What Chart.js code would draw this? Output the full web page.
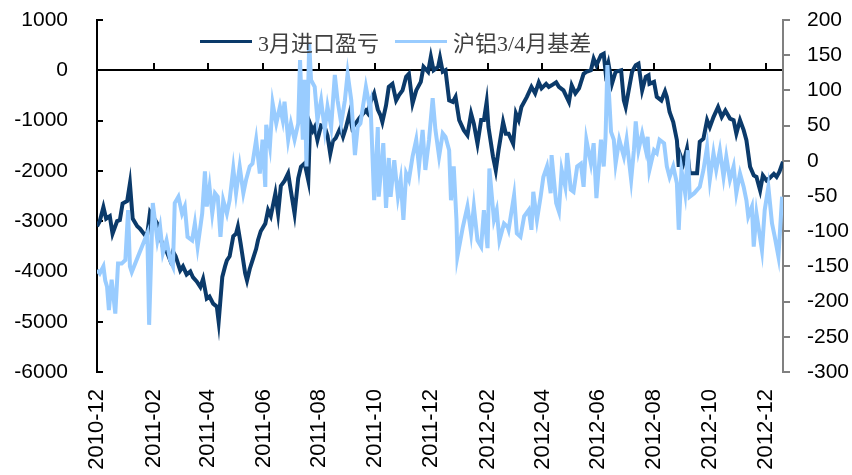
<!DOCTYPE html>
<html>
<head>
<meta charset="utf-8">
<script src="https://cdn.jsdelivr.net/npm/chart.js@4.4.0/dist/chart.umd.min.js"></script>
<style>
html, body { margin: 0; padding: 0; background: #fff; }
#wrap { position: relative; width: 852px; height: 475px; }
#legend { position: absolute; left: 200px; top: 25px; display: flex; align-items: center;
  font-family: "Liberation Serif", "Noto Sans CJK SC", serif; font-size: 22px; color: #404040; }
.item { display: flex; align-items: center; margin-right: 16px; }
.swatch { width: 52px; height: 3px; margin-right: 6px; }
</style>
</head>
<body>
<div id="wrap">
  <canvas id="chart" width="852" height="475"></canvas>
  <div id="legend"></div>
</div>
<script>
// series names + colours
const seriesNames = ['3月进口盈亏', '沪铝3/4月基差'];
const seriesColors = ['#0b3a6a', '#99ccff'];

// x axis: days since 2010-12-01, one label every two months
const tickDays = [0, 62, 121, 182, 243, 304, 365, 427, 487, 548, 609, 670, 731];
const tickLabels = ['2010-12', '2011-02', '2011-04', '2011-06', '2011-08', '2011-10', '2011-12',
  '2012-02', '2012-04', '2012-06', '2012-08', '2012-10', '2012-12'];

// 3月进口盈亏 (left axis)
const profitDays = [0,3,7,10,14,17,22,25,28,33,
  36,39,44,47,52,55,58,61,66,69,
  72,76,80,83,86,91,94,98,102,105,
  109,113,116,120,123,127,131,133,137,140,
  142,145,149,152,154,157,162,164,167,170,
  174,176,179,184,187,190,195,198,201,205,
  209,212,216,220,223,227,231,233,236,238,
  241,245,249,252,255,258,261,266,269,272,
  276,279,283,287,291,294,296,299,303,307,
  310,312,316,319,323,327,330,334,338,341,
  345,349,354,357,362,365,368,373,375,378,
  381,385,389,392,396,401,405,409,412,416,
  420,423,426,428,433,436,439,444,447,450,
  455,458,461,464,470,475,479,483,486,491,
  494,497,502,505,510,516,519,523,527,532,
  535,540,543,546,551,554,556,559,563,567,
  573,576,578,581,585,589,592,596,600,603,
  604,609,612,617,621,623,626,630,634,636,
  637,641,645,648,652,656,659,663,667,670,
  674,679,683,687,692,696,699,703,707,710,
  714,718,721,725,728,732,735,740,743,746,
  750];
const profitValues = [-3100,-3000,-2720,-2950,-2900,-3250,-3000,-2980,-2650,-2600,
  -2250,-2950,-3100,-3150,-3270,-3250,-2820,-2900,-3050,-3300,
  -3510,-3600,-3780,-3600,-3700,-3980,-3900,-4060,-4000,-4120,
  -4200,-4310,-4150,-4540,-4500,-4640,-4700,-5000,-4110,-3900,
  -3780,-3700,-3300,-3250,-3110,-3440,-4040,-4180,-3950,-3780,
  -3550,-3380,-3200,-3050,-2780,-2900,-2450,-2850,-2300,-2200,
  -2050,-2400,-2850,-2150,-1920,-1850,-2190,-1060,-1200,-1130,
  -1390,-1100,-1130,-1300,-1660,-1400,-1350,-1150,-1320,-1150,
  -860,-1150,-1050,-950,-860,-800,-850,-630,-460,-780,
  -900,-1030,-700,-330,-270,-600,-500,-400,-130,-70,
  -660,-400,-230,70,-30,270,0,70,250,-30,
  0,-600,-630,-530,-990,-1190,-1290,-860,-1060,-1460,
  -990,-990,-630,-1130,-1720,-1990,-1590,-1030,-1260,-1260,
  -1460,-860,-990,-730,-530,-330,-460,-240,-360,-270,
  -330,-300,-240,-330,-400,-630,-300,-460,-360,-70,
  -30,0,230,100,300,330,-30,150,-270,-30,
  0,-600,-730,-430,-30,100,130,-400,-130,-100,
  -270,-230,-530,-600,-420,-530,-830,-1030,-1390,-1920,
  -1650,-1850,-1560,-2050,-2050,-2050,-1420,-1360,-990,-1130,
  -930,-730,-930,-800,-960,-990,-1260,-990,-1190,-1390,
  -1920,-2090,-2120,-2390,-2090,-2190,-2150,-2060,-2120,-2020,
  -1820];

// 沪铝3/4月基差 (right axis)
const basisDays = [0,3,7,9,11,13,16,20,23,27,
  31,34,36,38,55,57,61,66,69,72,
  76,80,83,85,89,93,96,99,104,107,
  110,115,118,120,123,126,129,132,135,138,
  142,145,149,152,156,160,163,167,170,174,
  178,181,184,185,189,192,196,200,203,205,
  209,212,216,220,222,225,227,229,232,234,
  238,241,245,249,252,256,260,263,267,271,
  274,278,282,285,288,294,298,299,303,307,
  308,313,316,319,321,325,329,332,335,338,
  341,345,349,352,356,359,363,367,370,374,
  378,381,385,387,390,393,394,400,405,409,
  412,416,420,423,427,429,434,437,440,445,
  449,450,456,459,463,467,472,475,477,481,
  485,488,492,496,497,502,505,508,512,514,
  518,521,525,529,532,535,540,543,546,551,
  554,556,558,562,565,567,571,576,579,584,
  587,589,592,596,600,602,604,609,612,615,
  620,623,626,630,634,636,639,643,646,648,
  653,659,663,667,670,674,677,681,685,688,
  692,696,699,703,707,710,712,716,718,721,
  727,730,734,738,741,745,749];
const basisValues = [-155,-160,-150,-170,-179,-212,-169,-217,-146,-146,
  -141,-70,-150,-158,-103,-233,-60,-113,-94,-131,
  -113,-141,-150,-60,-51,-75,-65,-108,-113,-89,
  -122,-75,-15,-65,-37,-75,-46,-51,-108,-56,
  -75,-56,-11,-46,-8,-46,-27,-8,-4,30,
  -18,30,-37,51,20,82,53,77,58,84,
  30,53,30,53,143,30,115,-8,167,115,
  105,58,86,44,77,48,122,86,53,86,
  124,86,8,48,53,105,77,82,-56,48,
  -51,25,-67,4,-51,1,-51,-27,-84,-18,
  -27,6,30,-8,44,-13,30,89,44,6,
  39,34,15,-56,-8,-84,-136,-94,-65,-103,
  -65,-113,-122,-70,-124,-11,-84,-70,-113,-89,
  -94,-98,-49,-103,-108,-79,-70,-98,-44,-84,
  -51,-23,-8,-46,8,-60,-72,-13,-37,11,
  -41,-44,-8,-4,-37,30,-4,25,-53,30,
  -8,34,136,41,30,-4,30,6,30,-27,
  15,56,15,39,15,34,-13,15,11,30,
  25,-8,-23,-8,-32,-98,-13,-46,15,-51,
  -46,-37,-13,20,-27,11,-13,15,-23,6,
  -27,-8,-46,-18,-37,-56,-79,-65,-122,-75,
  -127,-70,-37,-89,-108,-136,-51];

const toPoints = (days, vals) => days.map((d, i) => ({ x: d, y: vals[i] }));

// small tick marks: x ticks stand up from the zero line,
// left ticks point inward, right ticks point outward (grey)
const axisTicks = {
  id: 'axisTicks',
  beforeDatasetsDraw(chart) {
    const { ctx, scales: { x, y, y1 } } = chart;
    const y0 = Math.round(y.getPixelForValue(0));
    ctx.save();
    ctx.lineWidth = 2;
    ctx.strokeStyle = '#000';
    ctx.beginPath();
    x.ticks.forEach(t => {
      if (t.value <= 0) return;
      const px = Math.round(x.getPixelForValue(t.value));
      ctx.moveTo(px, y0);
      ctx.lineTo(px, y0 - 7);
    });
    y.ticks.forEach(t => {
      const py = Math.round(y.getPixelForValue(t.value));
      ctx.moveTo(y.right, py);
      ctx.lineTo(y.right + 6, py);
    });
    ctx.stroke();
    ctx.strokeStyle = '#808080';
    ctx.beginPath();
    y1.ticks.forEach(t => {
      const py = Math.round(y1.getPixelForValue(t.value));
      ctx.moveTo(y1.left, py);
      ctx.lineTo(y1.left + 7, py);
    });
    ctx.stroke();
    ctx.restore();
  }
};

const yFont = { family: '"Liberation Sans", Arial, sans-serif', size: 21 };
const xFont = { family: '"Liberation Sans", Arial, sans-serif', size: 22 };
const clear = 'rgba(0,0,0,0)';

new Chart(document.getElementById('chart'), {
  type: 'line',
  data: {
    datasets: [
      { label: seriesNames[0], data: toPoints(profitDays, profitValues), yAxisID: 'y',
        borderColor: seriesColors[0], borderWidth: 4, pointRadius: 0, order: 1 },
      { label: seriesNames[1], data: toPoints(basisDays, basisValues), yAxisID: 'y1',
        borderColor: seriesColors[1], borderWidth: 4, pointRadius: 0, order: 0 }
    ]
  },
  options: {
    responsive: false,
    animation: false,
    layout: { padding: { top: 20 } },
    plugins: { legend: { display: false }, tooltip: { enabled: false } },
    scales: {
      x: {
        type: 'linear', min: 0, max: 750,
        afterBuildTicks: s => { s.ticks = tickDays.map(v => ({ value: v })); },
        afterFit: s => { s.height = 103; },
        grid: { display: false },
        border: { display: false },
        ticks: {
          autoSkip: false, minRotation: 90, maxRotation: 90, padding: 9,
          color: '#000', font: xFont,
          callback: v => tickLabels[tickDays.indexOf(v)] || ''
        }
      },
      y: {
        position: 'left', min: -6000, max: 1000,
        afterFit: s => { s.width = 97; },
        ticks: { stepSize: 1000, padding: 5, color: '#000', font: yFont, callback: v => String(v) },
        grid: { color: c => (c.tick.value === 0 ? '#000' : clear), lineWidth: 2,
          drawTicks: true, tickLength: 24, tickColor: clear },
        border: { color: '#000', width: 2 }
      },
      y1: {
        position: 'right', min: -300, max: 200,
        afterFit: s => { s.width = 69; },
        ticks: { stepSize: 50, padding: 5, color: '#000', font: yFont, callback: v => String(v) },
        grid: { drawOnChartArea: false, drawTicks: true, tickLength: 19, tickColor: clear },
        border: { color: '#808080', width: 2 }
      }
    }
  },
  plugins: [axisTicks]
});

// html legend
const legend = document.getElementById('legend');
seriesNames.forEach((name, i) => {
  const item = document.createElement('div');
  item.className = 'item';
  const sw = document.createElement('span');
  sw.className = 'swatch';
  sw.style.background = seriesColors[i];
  const txt = document.createElement('span');
  txt.textContent = name;
  item.appendChild(sw);
  item.appendChild(txt);
  legend.appendChild(item);
});
</script>
</body>
</html>
